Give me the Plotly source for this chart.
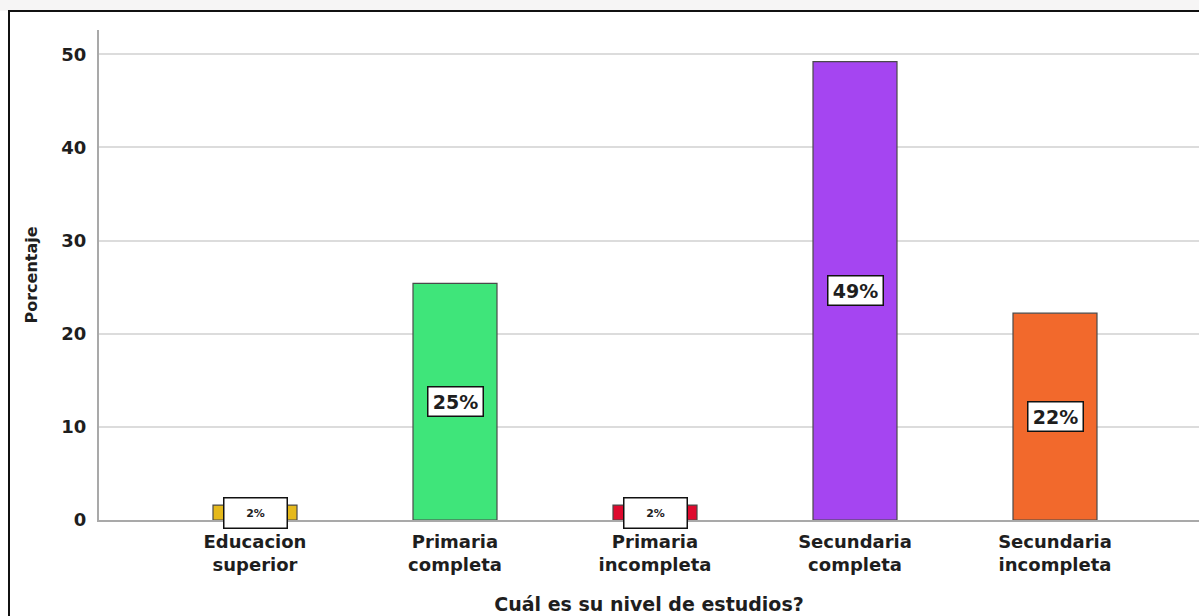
import plotly.graph_objects as go

# Nivel de estudios: categorías y porcentajes
categorias = ["Educacion<br>superior", "Primaria<br>completa", "Primaria<br>incompleta",
              "Secundaria<br>completa", "Secundaria<br>incompleta"]
porcentajes = [1.6, 25.4, 1.6, 49.2, 22.2]
colores = ["#E5B91C", "#3FE57A", "#DE0A2E", "#A545F1", "#F2692C"]
y_ticks = [0, 10, 20, 30, 40, 50]

FONT = "DejaVu Sans, Verdana, sans-serif"
INK = "#1e1e1e"

fig = go.Figure()
fig.add_trace(go.Bar(
    x=list(range(len(categorias))),
    y=porcentajes,
    width=0.42,
    marker=dict(color=colores, line=dict(color="#4a4a4a", width=1.2)),
    hoverinfo="skip",
))

# Etiquetas de porcentaje en recuadros blancos en el centro de cada barra
annotations = []
for i, v in enumerate(porcentajes):
    small = v < 5
    annotations.append(dict(
        x=i, y=v / 2, xref="x", yref="y",
        text=f"{v:.0f}%",
        showarrow=False,
        font=dict(family=FONT, size=11 if small else 19, color=INK, weight="bold"),
        bgcolor="white", bordercolor="#111", borderwidth=1.5,
        width=62 if small else 54, height=29 if small else 28,
        borderpad=0,
    ))

# Marco negro exterior y franja gris superior
shapes = [
    dict(type="rect", xref="paper", yref="paper", x0=-0.2, x1=1.2,
         y0=1.0388, y1=1.2, fillcolor="#f6f5f5", line=dict(width=0), layer="below"),
    dict(type="rect", xref="paper", yref="paper",
         x0=(9 - 99) / 1100, x1=1.02, y0=-0.25, y1=1 + (30 - 11) / 490,
         line=dict(color="#111", width=2), fillcolor="rgba(0,0,0,0)"),
]

fig.update_layout(
    width=1199, height=616,
    margin=dict(l=99, r=0, t=30, b=96),
    plot_bgcolor="white", paper_bgcolor="white",
    showlegend=False,
    annotations=annotations,
    shapes=shapes,
    font=dict(family=FONT, color=INK),
)
fig.update_xaxes(
    range=[-0.78, 4.72],
    tickmode="array", tickvals=list(range(len(categorias))), ticktext=categorias,
    tickfont=dict(family=FONT, size=18, color=INK, weight="bold"),
    ticklabelstandoff=4,
    showline=True, linecolor="#a9a9a9", linewidth=2,
    showgrid=False, ticks="", zeroline=False,
    title=dict(text="Cuál es su nivel de estudios?",
               font=dict(family=FONT, size=19, color=INK, weight="bold"),
               standoff=24),
    automargin=False,
)
fig.update_yaxes(
    range=[0, 52.6],
    tickmode="array", tickvals=y_ticks,
    tickfont=dict(family=FONT, size=18, color=INK, weight="bold"),
    showline=True, linecolor="#a9a9a9", linewidth=2,
    showgrid=True, gridcolor="#dcdcdc", gridwidth=2,
    zeroline=False, ticks="", ticklabelstandoff=7,
    title=dict(text="Porcentaje",
               font=dict(family=FONT, size=16, color=INK, weight="bold"),
               standoff=20),
    automargin=False,
)

fig.write_html("out.html")
